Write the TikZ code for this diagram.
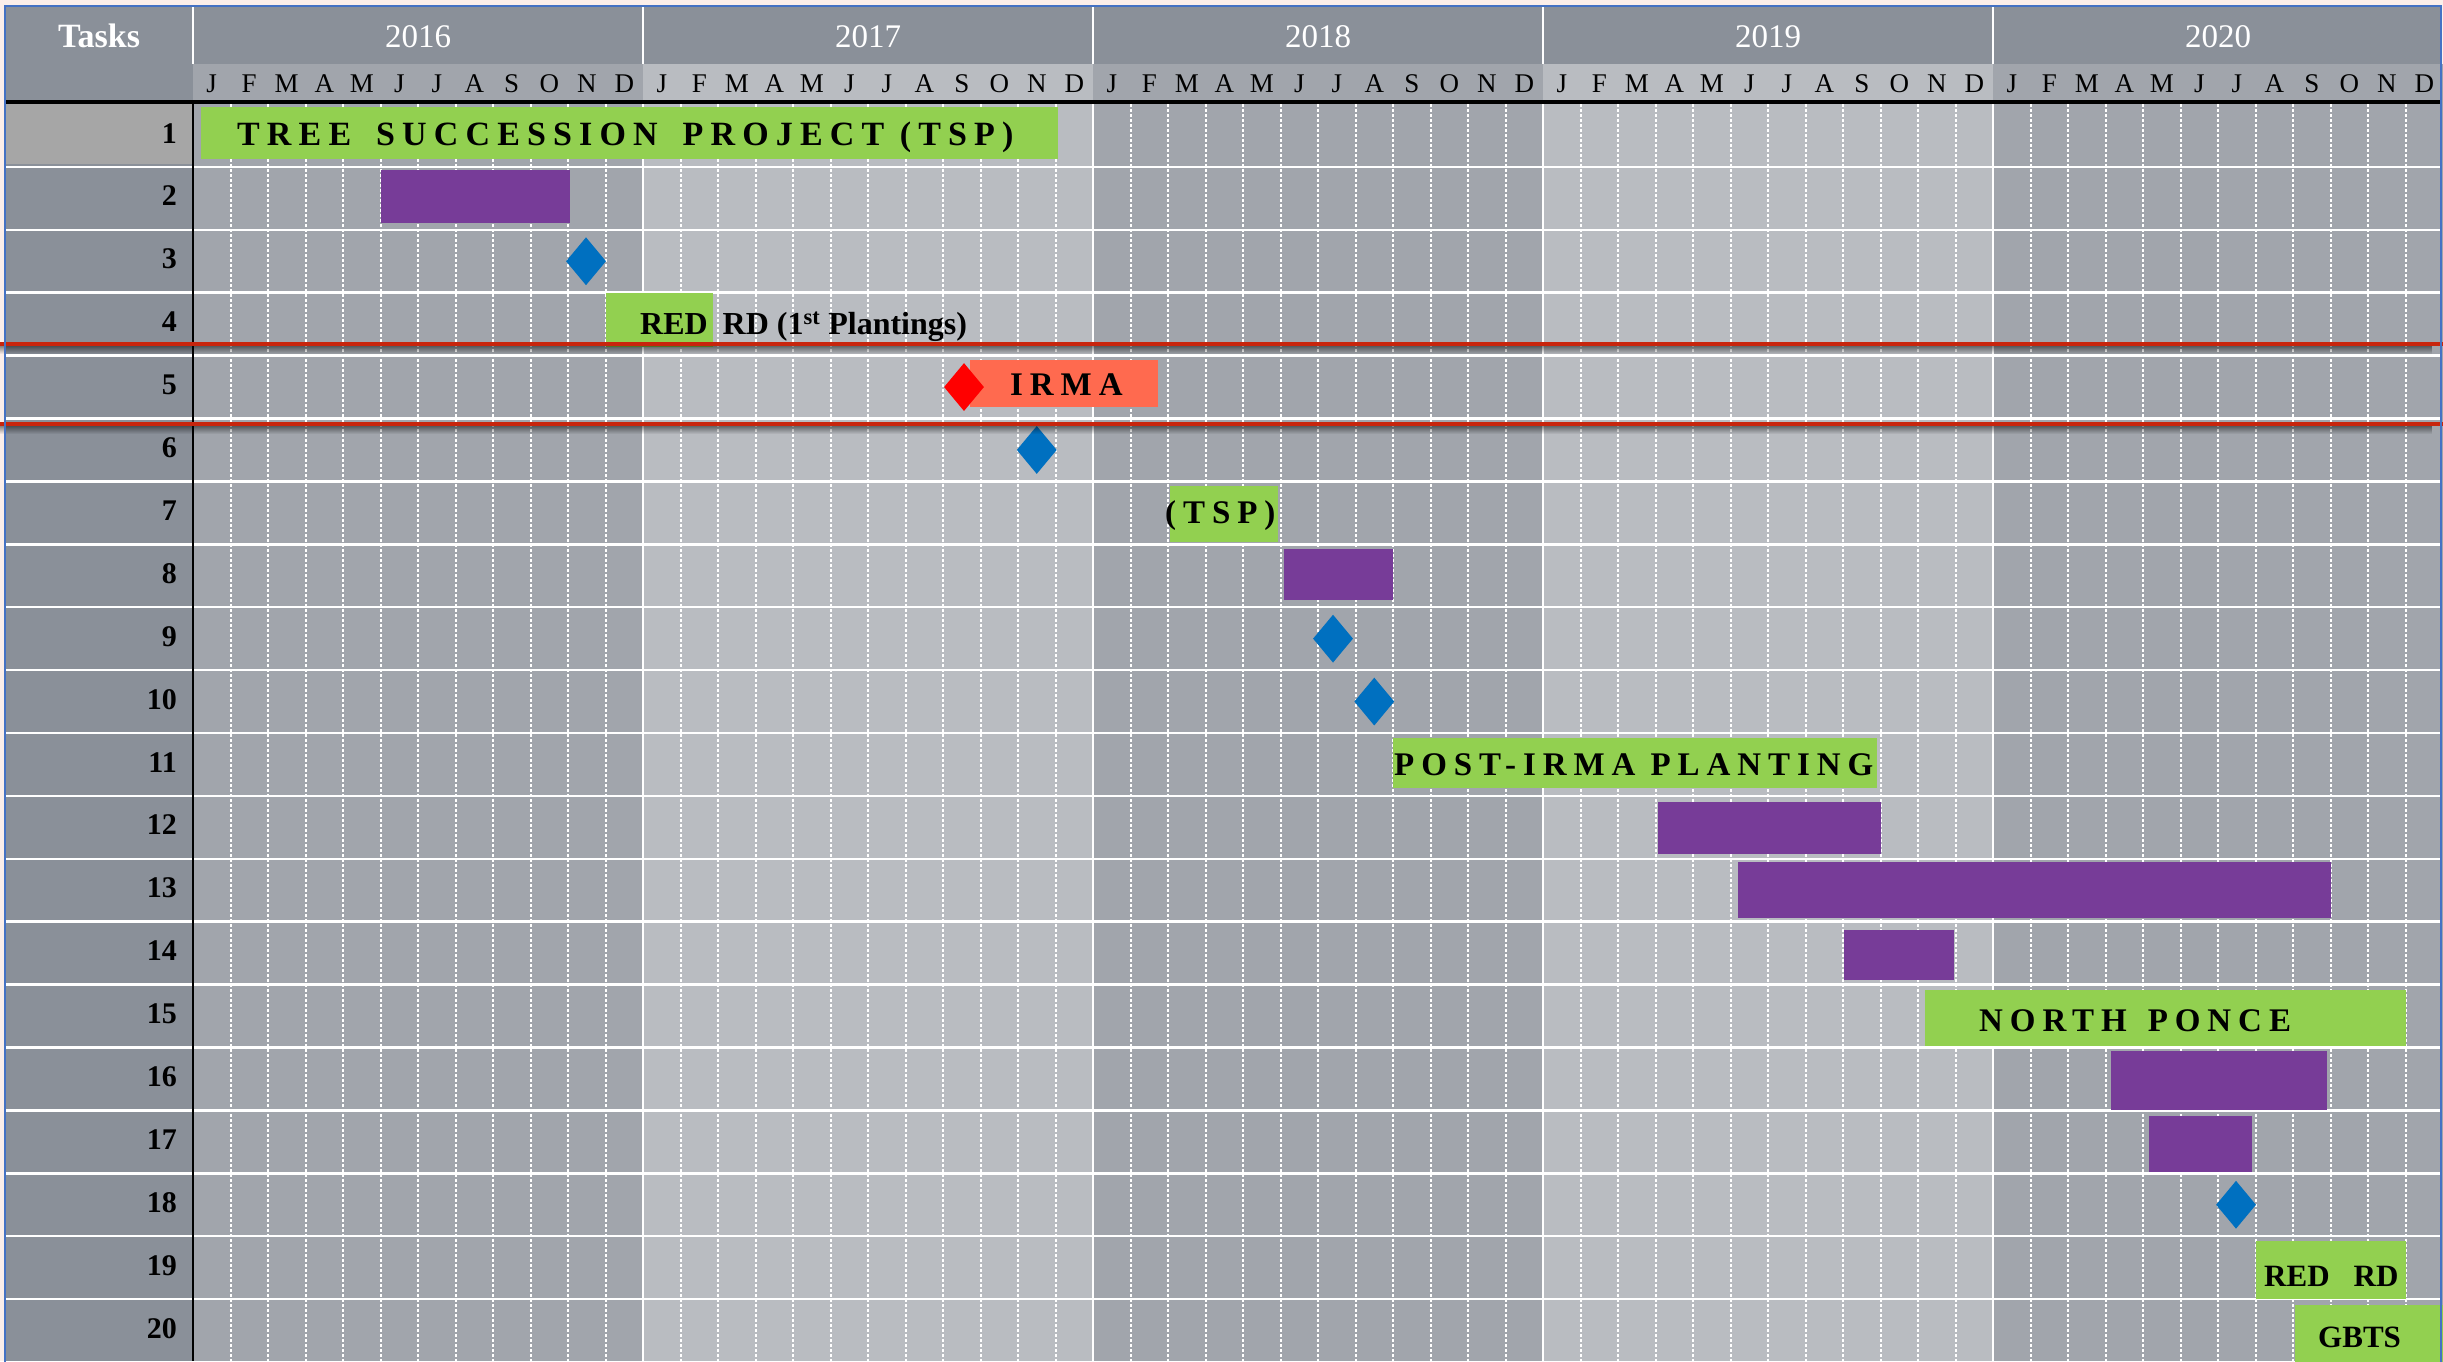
\documentclass[tikz,border=0pt]{standalone}
\usepackage{fontspec}
\setmainfont{Liberation Serif}
\newfontface\spacedbf[LetterSpace=21]{Liberation Serif Bold}
\usepackage{tikz}
\usetikzlibrary{shapes.geometric, fadings}

\definecolor{pagebg}{HTML}{FCEFEA}
\definecolor{headgray}{HTML}{8A9099}
\definecolor{banddark}{HTML}{A1A5AC}
\definecolor{bandlight}{HTML}{B9BCC1}
\definecolor{firstcell}{HTML}{A6A6A6}
\definecolor{bargreen}{HTML}{92D050}
\definecolor{barpurple}{HTML}{773C98}
\definecolor{barirma}{HTML}{FF6A4F}
\definecolor{mileblue}{HTML}{0070C0}
\definecolor{milered}{HTML}{FF0000}
\definecolor{borderblue}{HTML}{4472C4}
\definecolor{hurricane}{HTML}{C8250D}

\newcommand{\wordgap}{\hspace{24pt}}
\newcommand{\taskbar}[6]{%
    % name, style, start month, end month, top y, bottom y
    \node[#2, minimum width={37.5*(#4-#3)}, minimum height={#6-#5}] (#1)
        at ({193+37.5*(#3+#4)/2}, {(#5+#6)/2}) {};
}
\newcommand{\milestone}[4]{%
    % name, style, month, row
    \node[#2] (#1) at ({193+37.5*#3}, {104+62.9*(#4-0.5)}) {};
}

\begin{document}
\begin{tikzpicture}[x=1pt, y=-1pt,
        bar/.style={rectangle, inner sep=0pt, outer sep=0pt},
        greenbar/.style={bar, fill=bargreen},
        purplebar/.style={bar, fill=barpurple},
        irmabar/.style={bar, fill=barirma},
        mile/.style={diamond, inner sep=0pt, minimum width=40pt, minimum height=48pt, fill=mileblue},
        hitmile/.style={mile, fill=milered},
        yearlabel/.style={anchor=base, text=white, font=\fontsize{33}{36}\selectfont},
        monthlabel/.style={anchor=base, inner sep=0pt, font=\fontsize{27}{30}\selectfont},
        tasknum/.style={anchor=base east, inner sep=0pt, font=\bfseries\fontsize{30}{32}\selectfont},
        barlabel/.style={anchor=base west, inner sep=0pt, font=\spacedbf\fontsize{33}{36}\selectfont},
        plainlabel/.style={anchor=base west, inner sep=0pt, font=\bfseries\fontsize{31}{34}\selectfont},
        rowline/.style={white, line width=2.5pt},
        monthline/.style={white, line width=2pt, dash pattern=on 2.5pt off 2.5pt},
        yearline/.style={white, line width=2pt},
        stormline/.style={hurricane, line width=4pt}
    ]

    % =========================================================================
    % 1. CANVAS AND GRID
    % =========================================================================
    \useasboundingbox (0,0) rectangle (2443,1361);
    \clip (0,0) rectangle (2443,1361);
    \fill[pagebg] (0,0) rectangle (2443,1361);

    % Header and task column
    \fill[headgray] (5,6) rectangle (2441,64);
    \fill[headgray] (5,64) rectangle (193,1361);

    % Year bands
    \foreach \yr/\band [count=\j from 0] in {2016/banddark, 2017/bandlight, 2018/banddark, 2019/bandlight, 2020/banddark} {
        \fill[\band] ({193+450*\j}, 64) rectangle ({643+450*\j}, 1361);
    }
    \fill[firstcell] (5,104) rectangle (193,164);

    % Month and year dividers
    \foreach \m in {1,...,59} {
        \draw[monthline] ({193+37.5*\m}, 104) -- ({193+37.5*\m}, 1361);
    }
    \foreach \j in {0,...,4} {
        \draw[yearline] ({193+450*\j}, 6) -- ({193+450*\j}, 64);
    }
    \foreach \j in {1,...,4} {
        \draw[yearline] ({193+450*\j}, 104) -- ({193+450*\j}, 1361);
    }

    % Row dividers
    \foreach \k in {1,...,19} {
        \draw[rowline] (5, {104+62.9*\k}) -- (2441, {104+62.9*\k});
    }
    \fill[black] (5,100) rectangle (2441,104);
    \draw[black, line width=2pt] (193,104) -- (193,1361);

    % =========================================================================
    % 2. HEADER TEXT
    % =========================================================================
    \node[anchor=base, text=white, font=\bfseries\fontsize{34}{36}\selectfont] (tasks) at (99, 47) {Tasks};
    \foreach \yr [count=\j from 0] in {2016,...,2020} {
        \node[yearlabel] (y\yr) at ({418+450*\j}, 47) {\yr};
        \foreach \l [count=\i from 0] in {J,F,M,A,M,J,J,A,S,O,N,D} {
            \node[monthlabel] (m\yr-\i) at ({193+450*\j+37.5*(\i+0.5)}, 92) {\l};
        }
    }

    % Task numbers
    \foreach \k in {1,...,20} {
        \node[tasknum] (t\k) at (177, {143+62.9*(\k-1)}) {\k};
    }

    % =========================================================================
    % 3. TASK BARS
    % =========================================================================
    \taskbar{b1}{greenbar}{0.21}{23.07}{107}{159}
    \taskbar{b2}{purplebar}{5}{10.05}{170}{223}
    \taskbar{b4}{greenbar}{11}{13.87}{293}{347}
    \taskbar{b5}{irmabar}{20.72}{25.73}{360}{407}
    \taskbar{b7}{greenbar}{26.05}{28.93}{486}{542}
    \taskbar{b8}{purplebar}{29.1}{32}{549}{600}
    \taskbar{b11}{greenbar}{32}{44.9}{738}{788}
    \taskbar{b12}{purplebar}{39.07}{45}{802}{854}
    \taskbar{b13}{purplebar}{41.2}{57}{862}{918}
    \taskbar{b14}{purplebar}{44.03}{46.96}{930}{980}
    \taskbar{b15}{greenbar}{46.19}{59}{990}{1046}
    \taskbar{b16}{purplebar}{51.15}{56.9}{1051}{1110}
    \taskbar{b17}{purplebar}{52.16}{54.9}{1116}{1172}
    \taskbar{b19}{greenbar}{55}{59}{1241}{1299}
    \taskbar{b20}{greenbar}{56.05}{61}{1305}{1370}

    % Milestones
    \milestone{d3}{mile}{10.48}{3}
    \milestone{d5}{hitmile}{20.56}{5}
    \milestone{d6}{mile}{22.5}{6}
    \milestone{d9}{mile}{30.4}{9}
    \milestone{d10}{mile}{31.5}{10}
    \milestone{d18}{mile}{54.48}{18}

    % Bar labels
    \node[barlabel, font=\spacedbf\fontsize{34}{36}\selectfont] (l1) at (237, 145) {TREE\hspace{25pt}SUCCESSION\hspace{25pt}PROJECT (TSP)};
    \node[plainlabel, font=\bfseries\fontsize{32}{34}\selectfont] (l4) at (640, 334) {RED\hspace{15pt}RD (1\textsuperscript{st} Plantings)};
    \node[barlabel] (l5) at (1010, 395) {IRMA};
    \node[barlabel] (l7) at (1165, 523) {(TSP)};
    \node[barlabel] (l11) at (1394, 775) {POST-IRMA PLANTING};
    \node[barlabel] (l15) at (1979, 1031) {NORTH\hspace{21pt}PONCE};
    \node[plainlabel] (l19) at (2264, 1286) {RED\hspace{24pt}RD};
    \node[plainlabel] (l20) at (2318, 1347) {GBTS};

    % =========================================================================
    % 4. HURRICANE MARKERS AND FRAME
    % =========================================================================
    \fill[black, opacity=0.45, path fading=south] (0,346) rectangle (2443,354);
    \fill[black, opacity=0.45, path fading=south] (0,426) rectangle (2443,434);
    \draw[stormline] (0,344) -- (2443,344);
    \draw[stormline] (0,424) -- (2443,424);

    \draw[borderblue, line width=2pt] (5,1370) -- (5,6) -- (2441,6) -- (2441,1370);

\end{tikzpicture}
\end{document}
